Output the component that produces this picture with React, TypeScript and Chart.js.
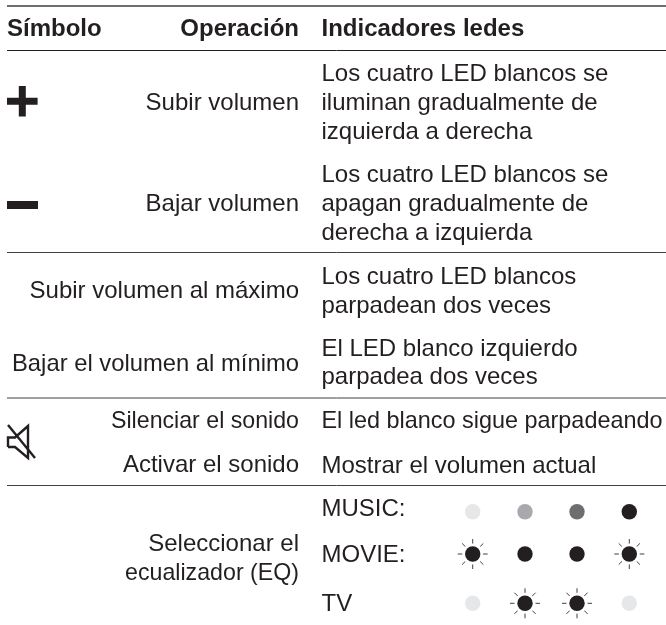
import { useEffect, useRef } from "react";
import { Chart, registerables } from "chart.js";

Chart.register(...registerables);

const W = 666;
const H = 625;
const FONT = '"Liberation Sans", Arial, sans-serif';
const INK = "#231f20";

// ---- content ----
const headers = ["Símbolo", "Operación", "Indicadores ledes"];
const operations = [
  ["Subir volumen"],
  ["Bajar volumen"],
  ["Subir volumen al máximo"],
  ["Bajar el volumen al mínimo"],
  ["Silenciar el sonido"],
  ["Activar el sonido"],
  ["Seleccionar el", "ecualizador (EQ)"],
];
const indicators = [
  ["Los cuatro LED blancos se", "iluminan gradualmente de", "izquierda a derecha"],
  ["Los cuatro LED blancos se", "apagan gradualmente de", "derecha a izquierda"],
  ["Los cuatro LED blancos", "parpadean dos veces"],
  ["El LED blanco izquierdo", "parpadea dos veces"],
  ["El led blanco sigue parpadeando"],
  ["Mostrar el volumen actual"],
];
const eqModes = ["MUSIC:", "MOVIE:", "TV"];
// led state: 0 faint, 1 light, 2 mid, 3 solid, 4 flashing
const musicLeds = [0, 1, 2, 3];
const movieLeds = [4, 3, 3, 4];
const tvLeds = [0, 4, 4, 0];

// ---- layout ----
const operationRight = 299;
const indicatorLeft = 321.5;
const lineStep = 28.9;
const operationBaselines = [110, 211, 298, 371, 428, 472, 551];
const indicatorBaselines = [81, 182, 284, 355.5, 428, 472.5];
const eqBaselines = [516, 561.5, 611];
const headerBaseline = 36;
const ledColumns = [472.7, 525, 577, 629.3];
const ledRows = [511.7, 554, 603.3];
const ruleYs = [50.5, 252.5, 398, 485.5];
// widest a line may run, where the substitute font is wider than the original
const maxWidths: Record<string, number> = {
  "Silenciar el sonido": 188,
  "ecualizador (EQ)": 174,
  "El led blanco sigue parpadeando": 341,
  "Bajar el volumen al mínimo": 287,
};

const ledColors = ["#e6e7e8", "#a7a9ac", "#6d6e71", INK, INK];
const muteSpeaker = [
  [8, 447], [8, 437.5], [15, 437.5], [28, 426], [28, 458], [15, 447], [8, 447],
];
const muteSlash = [[8, 425], [35, 458]];

const ledStates = [musicLeds, movieLeds, tvLeds];
const ledPoints = ledStates.flatMap((row, r) =>
  row.map((state, c) => ({ x: ledColumns[c], y: ledRows[r], state }))
);
const flashing = ledPoints.filter((p) => p.state === 4);

const textPlugin = {
  id: "tableText",
  afterDatasetsDraw(chart: any) {
    const { ctx, scales } = chart;
    const put = (t: string, xv: number, yv: number, align: CanvasTextAlign) => {
      ctx.textAlign = align;
      ctx.fillText(t, scales.x.getPixelForValue(xv), scales.y.getPixelForValue(yv), maxWidths[t] ?? 1000);
    };
    ctx.save();
    ctx.fillStyle = INK;
    ctx.textBaseline = "alphabetic";
    ctx.font = `bold 24px ${FONT}`;
    put(headers[0], 7, headerBaseline, "left");
    put(headers[1], operationRight, headerBaseline, "right");
    put(headers[2], indicatorLeft, headerBaseline, "left");
    ctx.font = `24px ${FONT}`;
    operations.forEach((lines, i) =>
      lines.forEach((l, j) => put(l, operationRight, operationBaselines[i] + j * lineStep, "right"))
    );
    indicators.forEach((lines, i) =>
      lines.forEach((l, j) => put(l, indicatorLeft, indicatorBaselines[i] + j * lineStep, "left"))
    );
    eqModes.forEach((m, i) => put(m, indicatorLeft, eqBaselines[i], "left"));
    ctx.restore();
  },
};

const xy = (pts: number[][]) => pts.map(([x, y]) => ({ x, y }));

export default function App() {
  const ref = useRef<HTMLCanvasElement>(null);
  useEffect(() => {
    const chart = new Chart(ref.current!, {
      type: "scatter",
      data: {
        // Chart.js paints the first dataset last, so discs come first.
        datasets: [
          {
            data: ledPoints.map(({ x, y }) => ({ x, y })),
            pointStyle: "circle", pointRadius: 7.7, pointBorderWidth: 0,
            pointBackgroundColor: ledPoints.map((p) => ledColors[p.state]),
          },
          {
            // gap between disc and rays
            data: flashing.map(({ x, y }) => ({ x, y })),
            pointStyle: "circle", pointRadius: 10.5, pointBackgroundColor: "#fff", pointBorderWidth: 0,
          },
          {
            // rays
            data: flashing.map(({ x, y }) => ({ x, y })),
            pointStyle: "star", pointRadius: 15, pointBorderColor: "#414042", pointBorderWidth: 1,
          },
          {
            data: [{ x: 7, y: 6 }, { x: W, y: 6 }],
            showLine: true, borderColor: "#6d6e71", borderWidth: 2, pointRadius: 0,
          },
          ...ruleYs.map((y, i) => ({
            data: [{ x: 7, y }, { x: W, y }],
            showLine: true, borderColor: i === 0 ? INK : "#414042", borderWidth: 1, pointRadius: 0,
          })),
          {
            // plus
            data: [{ x: 22.3, y: 101.3 }],
            pointStyle: "cross", pointRadius: 15.3, pointBorderColor: INK, pointBorderWidth: 7,
          },
          {
            // minus
            data: [{ x: 22.5, y: 205 }],
            pointStyle: "line", pointRadius: 15.5, pointBorderColor: INK, pointBorderWidth: 8,
          },
          {
            data: xy(muteSpeaker), showLine: true, borderColor: INK, borderWidth: 2.4, pointRadius: 0,
          },
          {
            data: xy(muteSlash), showLine: true, borderColor: INK, borderWidth: 2.4, pointRadius: 0,
          },
        ],
      } as any,
      options: {
        animation: false,
        responsive: false,
        layout: { padding: 0, autoPadding: false },
        plugins: { legend: { display: false }, tooltip: { enabled: false } },
        scales: {
          x: { type: "linear", display: false, min: 0, max: W },
          y: { type: "linear", display: false, min: 0, max: H, reverse: true },
        },
        clip: false,
      } as any,
      plugins: [textPlugin],
    });
    return () => chart.destroy();
  }, []);
  return (
    <div style={{ position: "absolute", left: 0, top: 0, width: W, height: H, background: "#fff" }}>
      <canvas ref={ref} width={W} height={H} style={{ display: "block" }} />
    </div>
  );
}
